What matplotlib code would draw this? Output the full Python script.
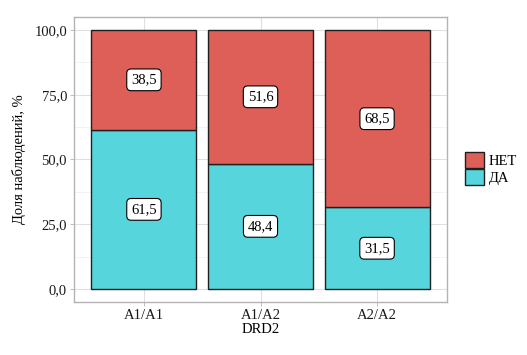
import matplotlib
matplotlib.use("Agg")
import matplotlib.pyplot as plt
from matplotlib.patches import Patch
import numpy as np

categories = ["A1/A1", "A1/A2", "A2/A2"]
da_values = [61.5, 48.4, 31.5]
net_values = [38.5, 51.6, 68.5]
yticks = [0, 25, 50, 75, 100]
ytick_labels = ["0,0", "25,0", "50,0", "75,0", "100,0"]
legend_labels = ["НЕТ", "ДА"]

plt.rcParams['font.family'] = ['Liberation Serif', 'DejaVu Serif']

red = "#DE5F58"
cyan = "#57D5DC"
edge = "#1f1f1f"

fig = plt.figure(figsize=(5.27, 3.55), dpi=100)
ax = fig.add_axes([74/527, 1-302/355, (447-74)/527, (302-17)/355])

x = np.arange(1, len(categories)+1)
ax.bar(x, da_values, width=0.9, color=cyan, edgecolor=edge, linewidth=1.0, zorder=3)
ax.bar(x, net_values, bottom=da_values, width=0.9, color=red, edgecolor=edge, linewidth=1.0, zorder=3)

fmt = lambda v: f"{v:.1f}".replace(".", ",")
for xi, d, n in zip(x, da_values, net_values):
    for val, ymid in ((d, d/2), (n, d + n/2)):
        ax.text(xi, ymid, fmt(val), ha="center", va="center", fontsize=10.5, zorder=5,
                bbox=dict(boxstyle="round,pad=0.3,rounding_size=0.3", fc="white", ec="black", lw=0.8))

ax.set_xlim(0.4, 3.6)
ax.set_ylim(-5, 105)
ax.set_xticks(x)
ax.set_xticklabels(categories, fontsize=10.5)
ax.set_yticks(yticks)
ax.set_yticklabels(ytick_labels, fontsize=10.5)
ax.set_yticks([12.5, 37.5, 62.5, 87.5], minor=True)
ax.tick_params(axis="both", which="major", color="#b3b3b3", length=3, width=0.6, pad=2, labelcolor="#1a1a1a")
ax.tick_params(axis="both", which="minor", length=0)
ax.grid(True, which="major", color="#e0e0e0", linewidth=0.8, zorder=0)
ax.grid(True, which="minor", axis="y", color="#efefef", linewidth=0.5, zorder=0)
ax.set_axisbelow(True)
for s in ax.spines.values():
    s.set_color("#b3b3b3")
    s.set_linewidth(1.0)

ax.set_xlabel("DRD2", fontsize=10.5, labelpad=1)
ax.set_ylabel("Доля наблюдений, %", fontsize=10.5, labelpad=6)

handles = [Patch(facecolor=red, edgecolor=edge, lw=1.0), Patch(facecolor=cyan, edgecolor=edge, lw=1.0)]
fig.legend(handles, legend_labels, loc="center left", bbox_to_anchor=(465/527, 1-168.5/355),
           bbox_transform=fig.transFigure, frameon=False, fontsize=10.5, handlelength=1.3,
           handleheight=1.3, labelspacing=0.05, handletextpad=0.35, borderpad=0, borderaxespad=0)

fig.savefig("out.png", dpi=100)
